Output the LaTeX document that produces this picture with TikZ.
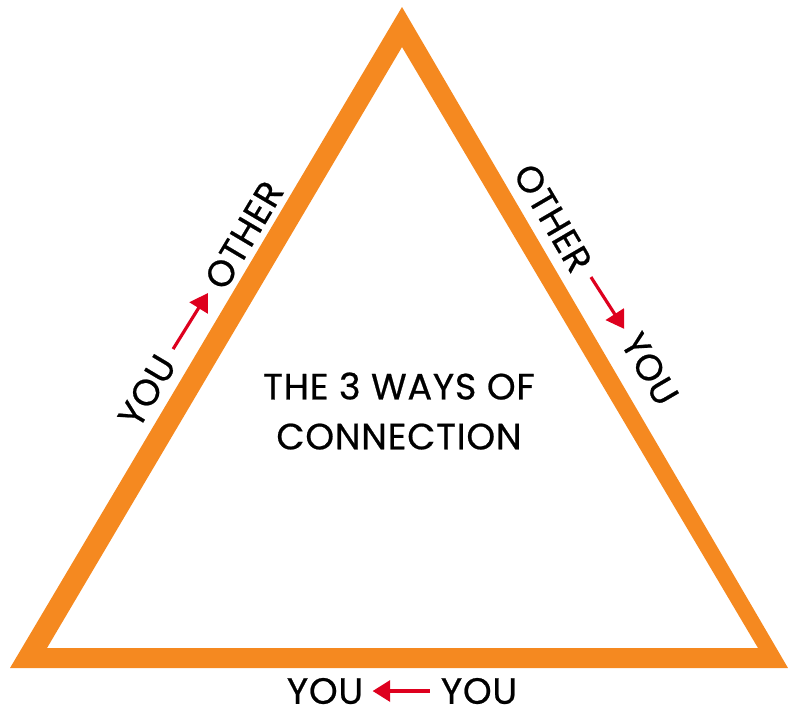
\documentclass[tikz,border=0pt]{standalone}
\usepackage{xcolor}
\usepackage{fontspec}
\setmainfont{Poppins}
\newfontfamily\wordfont{Poppins}[FakeBold=0.6, LetterSpace=2]
\usepackage{tikz}
\usetikzlibrary{arrows.meta}

\definecolor{triorange}{RGB}{245,137,32}
\definecolor{arrowred}{RGB}{222,0,30}

\begin{document}
\begin{tikzpicture}[x=0.01cm, y=-0.01cm,
      word/.style={inner sep=0pt, font=\wordfont\fontsize{10.4}{14.2}\selectfont},
      flow/.style={draw=arrowred, line width=0.9pt, -{Triangle[length=5pt, width=6pt]},
                   shorten <=3pt, shorten >=2.5pt}
    ]
      \useasboundingbox (0,0) rectangle (788,705);
      % triangle
      \fill[triorange, even odd rule] (402,7) -- (10,668) -- (788,668) -- cycle
                                      (402,47) -- (47,648) -- (758,648) -- cycle;
      % title
      \node[word, align=center] (title) at (399,411)
        {THE 3 WAYS OF\\CONNECTION};
      % left side
      \node[word, rotate=59.3] (leftyou)   at (147,391) {YOU};
      \node[word, rotate=59.3] (leftother) at (244,235) {OTHER};
      \draw[flow] (leftyou) -- (leftother);
      % right side
      \node[word, rotate=-59.7] (rightother) at (553,218) {OTHER};
      \node[word, rotate=-59.7] (rightyou)   at (650,369) {YOU};
      \draw[flow] (rightother) -- (rightyou);
      % bottom
      \node[word] (bottomleft)  at (325,691) {YOU};
      \node[word] (bottomright) at (479,691) {YOU};
      \draw[flow] (bottomright) -- (bottomleft);
    \end{tikzpicture}
\end{document}
